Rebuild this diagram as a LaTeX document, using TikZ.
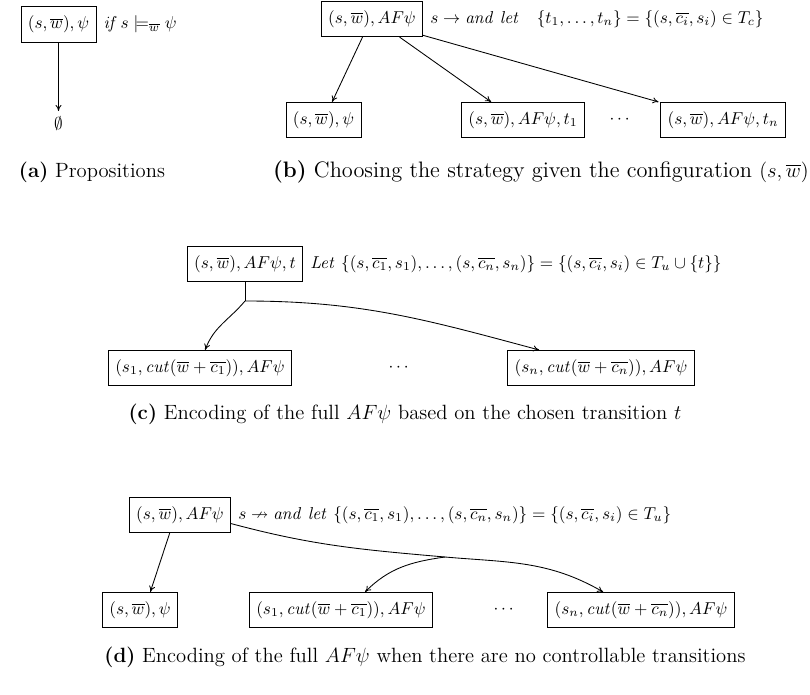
\documentclass[tikz,border=0pt]{standalone}
\usepackage{amsmath,amssymb}
\usetikzlibrary{arrows.meta}
\begin{document}
\begin{tikzpicture}[x=0.5815pt,y=-0.5815pt,
  box/.style={draw,line width=0.5pt,inner xsep=4pt,minimum height=20.5pt,font=\normalsize},
  lbl/.style={anchor=west,inner sep=0pt,font=\normalsize},
  captxt/.style={inner sep=0pt,font=\large},
  arr/.style={-{To[length=3.5pt,width=3.5pt]},line width=0.5pt},
  ln/.style={line width=0.5pt}]
\useasboundingbox (0,0) rectangle (810,694);
% (a)
\node[box] (a1) at (58.5,24.5) {$(s,\overline{w}),\psi$};
\node[lbl] (al) at ([xshift=4pt]a1.east) {$\mathit{if}\, s\models_{\overline{w}}\psi$};
\node (a2) at (58.5,124) {$\emptyset$};
\draw[arr] (a1) -- (a2);
\node[captxt] (acap) at (92,172) {\textbf{(a)} Propositions};
% (b)
\node[box] (b0) at (372,19) {$(s,\overline{w}),AF\psi$};
\node[lbl] (bl) at ([xshift=4pt]b0.east) {$s\rightarrow \mathit{and\ let}\ \ \ \{t_1,\ldots,t_n\}=\{(s,\overline{c_i},s_i)\in T_c\}$};
\node[box] (b1) at (323.5,120) {$(s,\overline{w}),\psi$};
\node[box] (b2) at (523,120) {$(s,\overline{w}),AF\psi,t_1$};
\node (bd) at (621,120) {$\cdots$};
\node[box] (b3) at (723,120) {$(s,\overline{w}),AF\psi,t_n$};
\draw[arr] ([xshift=-5.5pt]b0.south) -- ([xshift=5pt]b1.north);
\draw[arr] ([xshift=16pt]b0.south) -- ([xshift=-18.5pt]b2.north);
\draw[arr] ([yshift=1pt]b0.south east) -- ([xshift=-1pt]b3.north west);
\node[captxt,anchor=east,font=\fontsize{13}{15}\selectfont] (bcap) at (809,172) {\textbf{(b)} Choosing the strategy given the configuration $(s,\overline{w})$};
% (c)
\node[box] (c0) at (245,264) {$(s,\overline{w}),AF\psi,t$};
\node[lbl] (cl) at ([xshift=4pt]c0.east) {$\mathit{Let}\ \{(s,\overline{c_1},s_1),\ldots,(s,\overline{c_n},s_n)\}=\{(s,\overline{c_i},s_i)\in T_u\cup\{t\}\}$};
\coordinate (cj) at (245,301);
\node[box] (c1) at (200,368) {$(s_1,\mathit{cut}(\overline{w}+\overline{c_1})),AF\psi$};
\node (cd) at (400,368) {$\cdots$};
\node[box] (c2) at (601,368) {$(s_n,\mathit{cut}(\overline{w}+\overline{c_n})),AF\psi$};
\draw[ln] (c0.south) -- (cj);
\draw[arr] (cj) to[out=-130,in=70] ([xshift=3pt]c1.north);
\draw[arr] (cj) to[out=0,in=165] ([xshift=-36pt]c2.north);
\node[captxt] (ccap) at (405,414) {\textbf{(c)} Encoding of the full $AF\psi$ based on the chosen transition $t$};
% (d)
\node[box] (d0) at (180,515) {$(s,\overline{w}),AF\psi$};
\node[lbl] (dl) at ([xshift=4pt]d0.east) {$s\nrightarrow \mathit{and\ let}\ \{(s,\overline{c_1},s_1),\ldots,(s,\overline{c_n},s_n)\}=\{(s,\overline{c_i},s_i)\in T_u\}$};
\coordinate (dj) at (445,557);
\node[box] (d1) at (140,610) {$(s,\overline{w}),\psi$};
\node[box] (d2) at (341,610) {$(s_1,\mathit{cut}(\overline{w}+\overline{c_1})),AF\psi$};
\node (dd) at (505,610) {$\cdots$};
\node[box] (d3) at (641,610) {$(s_n,\mathit{cut}(\overline{w}+\overline{c_n})),AF\psi$};
\draw[arr] ([xshift=-6pt]d0.south) -- ([xshift=6pt]d1.north);
\draw[ln] ([yshift=-5pt]d0.east) to[out=-15,in=175] (dj);
\draw[arr] (dj) to[out=-172,in=45] ([xshift=14pt]d2.north);
\draw[arr] (dj) to[out=-5,in=150] ([xshift=-22pt]d3.north);
\node[captxt] (dcap) at (425,657) {\textbf{(d)} Encoding of the full $AF\psi$ when there are no controllable transitions};
\end{tikzpicture}
\end{document}
